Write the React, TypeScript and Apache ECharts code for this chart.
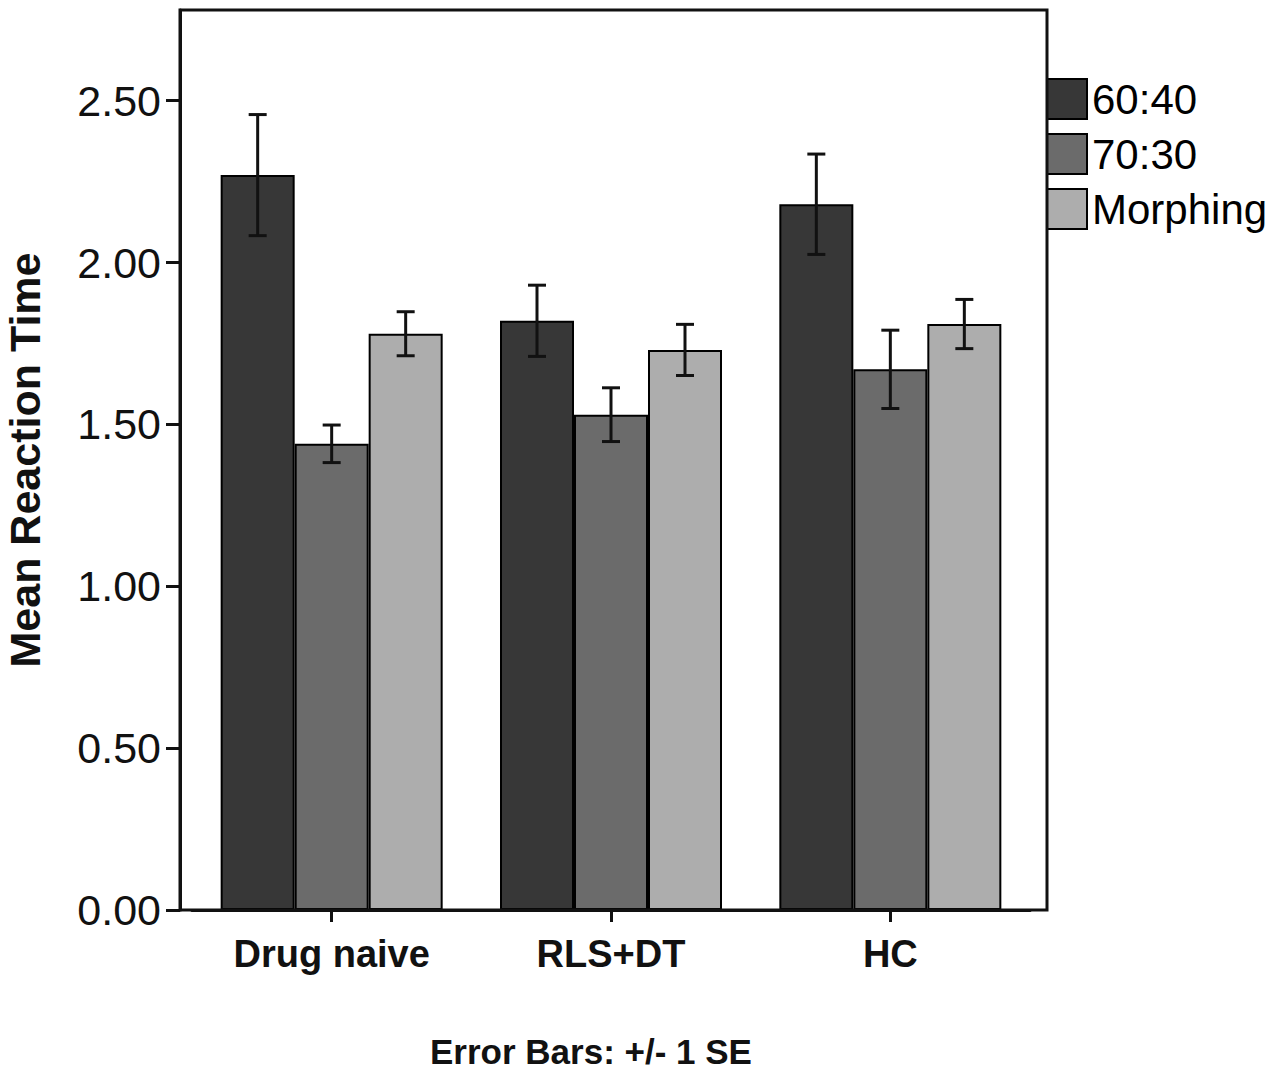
import React, { useEffect, useRef } from "react";
import * as echarts from "echarts";

const categories = ["Drug naive", "RLS+DT", "HC"];
const seriesNames = ["60:40", "70:30", "Morphing"];
const means6040 = [2.27, 1.82, 2.18];
const means7030 = [1.44, 1.53, 1.67];
const meansMorph = [1.78, 1.73, 1.81];
const se6040 = [0.187, 0.11, 0.155];
const se7030 = [0.058, 0.083, 0.121];
const seMorph = [0.068, 0.079, 0.076];
const yTicks = [0, 0.5, 1, 1.5, 2, 2.5];
const colors = ["#373737", "#6b6b6b", "#adadad"];

const FONT = "'Liberation Sans', Arial, sans-serif";

export default function App() {
  const ref = useRef<HTMLDivElement>(null);
  useEffect(() => {
    document.body.style.margin = "0";
    if (!ref.current) return;
    const chart = echarts.init(ref.current, null, { renderer: "svg" });
    const means = [means6040, means7030, meansMorph];
    const ses = [se6040, se7030, seMorph];
    const barWidth = 74;
    const barSeries = seriesNames.map((name, i) => ({
      name,
      type: "bar",
      data: means[i],
      barWidth,
      barGap: "0%",
      itemStyle: { color: colors[i], borderColor: "#000", borderWidth: 2 },
      z: 2,
    }));
    const errSeries = seriesNames.map((name, i) => ({
      name: name + " SE",
      type: "custom",
      z: 5,
      data: categories.map((_, c) => [c, means[i][c] - ses[i][c], means[i][c] + ses[i][c]]),
      renderItem: (params: any, api: any) => {
        const c = api.value(0);
        const lo = api.coord([c, api.value(1)]);
        const hi = api.coord([c, api.value(2)]);
        const x = lo[0] + (i - 1) * barWidth;
        const half = 9;
        const style = { stroke: "#111", lineWidth: 3 };
        return {
          type: "group",
          children: [
            { type: "line", shape: { x1: x, y1: lo[1], x2: x, y2: hi[1] }, style },
            { type: "line", shape: { x1: x - half, y1: lo[1], x2: x + half, y2: lo[1] }, style },
            { type: "line", shape: { x1: x - half, y1: hi[1], x2: x + half, y2: hi[1] }, style },
          ],
        };
      },
    }));
    chart.setOption({
      animation: false,
      backgroundColor: "#fff",
      grid: { left: 192, right: 250, top: 10, bottom: 161, outerBoundsMode: "none", containLabel: false },
      legend: {
        data: seriesNames,
        orient: "vertical",
        left: 1041,
        top: 73,
        icon: "rect",
        itemWidth: 40,
        itemHeight: 40,
        itemGap: 13,
        textStyle: { fontFamily: FONT, fontSize: 42, color: "#000", lineHeight: 40 },
      },
      graphic: [
        {
          type: "rect",
          shape: { x: 180, y: 10, width: 867, height: 900 },
          style: { fill: "none", stroke: "#111", lineWidth: 3 },
          z: 10,
        },
        {
          type: "text",
          left: 430,
          top: 1034,
          style: {
            text: "Error Bars: +/- 1 SE",
            fontFamily: FONT,
            fontWeight: "bold",
            fontSize: 35,
            lineHeight: 35,
            fill: "#111",
          },
        },
      ],
      xAxis: {
        type: "category",
        data: categories,
        axisLine: { show: true, lineStyle: { color: "#111", width: 3 } },
        axisTick: { show: true, alignWithLabel: true, length: 12, lineStyle: { color: "#111", width: 3 } },
        axisLabel: { fontFamily: FONT, fontWeight: "bold", fontSize: 38, color: "#111", margin: 25 },
      },
      yAxis: {
        type: "value",
        min: 0,
        max: 2.78,
        interval: 0.5,
        offset: 12,
        name: "Mean Reaction Time",
        nameLocation: "middle",
        nameGap: 134,
        nameTextStyle: { fontFamily: FONT, fontWeight: "bold", fontSize: 43, color: "#111" },
        splitLine: { show: false },
        axisLine: { show: true, lineStyle: { color: "#111", width: 3 } },
        axisTick: { show: true, length: 14, customValues: yTicks, lineStyle: { color: "#111", width: 3 } },
        axisLabel: {
          fontFamily: FONT,
          fontSize: 43,
          color: "#111",
          margin: 19,
          customValues: yTicks,
          formatter: (v: number) => v.toFixed(2),
        },
      },
      series: [...barSeries, ...errSeries],
    });
    return () => chart.dispose();
  }, []);
  return <div ref={ref} style={{ width: 1280, height: 1071 }} />;
}
